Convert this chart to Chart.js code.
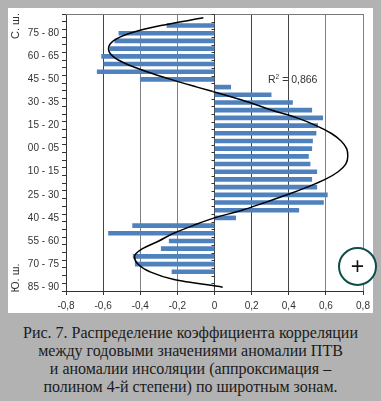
<!DOCTYPE html>
<html>
<head>
<meta charset="utf-8">
<script src="https://cdn.jsdelivr.net/npm/chart.js@4"></script>
<style>
  html, body { margin: 0; padding: 0; width: 381px; height: 401px; overflow: hidden; background: #b2b2b2; }
  #panel { position: absolute; left: 8px; top: 8px; width: 365px; height: 305px; background: #fff; }
  #wrap { position: absolute; left: 0; top: 0; width: 381px; height: 320px; }
  .side { position: absolute; font: 11px "Liberation Sans", sans-serif; color: #333; transform: translate(-50%, -50%) rotate(-90deg); white-space: nowrap; }
  #r2 { position: absolute; left: 268px; top: 73px; font: 10.5px "Liberation Sans", sans-serif; color: #333; white-space: nowrap; }
  #r2 sup { font-size: 6.5px; line-height: 0; }
  #plus { position: absolute; left: 338px; top: 247px; width: 35px; height: 35px; border: 2px solid #0e4d4a; border-radius: 50%; background: #fff;
          font: 23px/34px "Liberation Sans", sans-serif; color: #111; text-align: center; }
  #caption { position: absolute; left: 0; top: 324px; width: 381px; text-align: center; font: 16px/18px "Liberation Serif", serif; color: #1a1a1a; }
</style>
</head>
<body>
<div id="panel"></div>
<div id="wrap"><canvas id="chart" width="381" height="320"></canvas></div>
<div class="side" style="left:15px;top:26px">С. ш.</div>
<div class="side" style="left:15px;top:278px">Ю. ш.</div>
<div id="r2">R<sup>2</sup> = 0,866</div>
<div id="plus">+</div>
<div id="caption">Рис. 7. Распределение коэффициента корреляции<br>между годовыми значениями аномалии ПТВ<br>и аномалии инсоляции (аппроксимация –<br>полином 4-й степени) по широтным зонам.</div>
<script>
// широтные зоны, сверху вниз: север, потом юг
const zones = ["85 - 90", "80 - 85", "75 - 80", "70 - 75", "65 - 70", "60 - 65", "55 - 60", "50 - 55", "45 - 50",
  "40 - 45", "35 - 40", "30 - 35", "25 - 30", "20 - 25", "15 - 20", "10 - 15", "05 - 10", "00 - 05",
  "00 - 05", "05 - 10", "10 - 15", "15 - 20", "20 - 25", "25 - 30", "30 - 35", "35 - 40", "40 - 45",
  "45 - 50", "50 - 55", "55 - 60", "60 - 65", "65 - 70", "70 - 75", "75 - 80", "80 - 85", "85 - 90"];

const correlation = [null, -0.256, -0.515, -0.537, -0.564, -0.608, -0.596, -0.632, -0.40,
  0.087, 0.305, 0.42, 0.524, 0.583, 0.556, 0.547, 0.528, 0.524,
  0.506, 0.515, 0.551, 0.524, 0.551, 0.608, 0.587, 0.454, 0.114,
  -0.441, -0.571, -0.244, -0.287, -0.438, -0.427, -0.229, null, null];

const trend = [-0.06, -0.289, -0.456, -0.545, -0.571, -0.547, -0.474, -0.364, -0.235,
  -0.094, 0.051, 0.189, 0.31, 0.445, 0.547, 0.628, 0.682, 0.712,
  0.718, 0.707, 0.666, 0.596, 0.499, 0.391, 0.272, 0.148, 0.0,
  -0.116, -0.22, -0.30, -0.388, -0.431, -0.413, -0.348, -0.218, 0.044];

const xTicks = [-0.8, -0.6, -0.4, -0.2, 0, 0.2, 0.4, 0.6, 0.8];
const darkGrid = [-0.6, 0, 0.2, 0.4];

const tickFont = { family: '"Liberation Sans", sans-serif', size: 10 };

// мелкие риски на нулевой оси и верхняя рамка
const frameExtras = {
  id: "frameExtras",
  afterDatasetsDraw(chart) {
    const { x, y } = chart.scales;
    const c = chart.ctx;
    const x0 = x.getPixelForValue(0);
    const step = y.getPixelForValue(1) - y.getPixelForValue(0);
    c.save();
    c.lineWidth = 1;
    c.strokeStyle = "#777";
    c.beginPath();
    c.moveTo(chart.chartArea.left, chart.chartArea.top + 0.5);
    c.lineTo(chart.chartArea.right, chart.chartArea.top + 0.5);
    c.stroke();
    c.strokeStyle = "#333";
    c.beginPath();
    zones.forEach((z, i) => {
      const py = Math.round(y.getPixelForValue(i) - step / 2) + 0.5;
      c.moveTo(x0 - 3, py);
      c.lineTo(x0, py);
    });
    c.stroke();
    c.restore();
  }
};

new Chart(document.getElementById("chart"), {
  type: "bar",
  data: {
    labels: zones,
    datasets: [
      {
        type: "line", data: trend, borderColor: "#000", borderWidth: 1.5,
        pointRadius: 0, cubicInterpolationMode: "monotone", order: 0
      },
      { type: "bar", data: correlation, backgroundColor: "#4f81bd", barThickness: 4, order: 1 }
    ]
  },
  options: {
    indexAxis: "y",
    responsive: false,
    animation: false,
    layout: { padding: { top: 14, right: 18, bottom: 0, left: 0 } },
    plugins: { legend: { display: false }, tooltip: { enabled: false } },
    scales: {
      x: {
        type: "linear", min: -0.8, max: 0.8,
        afterBuildTicks: s => { s.ticks = xTicks.map(v => ({ value: v })); },
        afterFit: s => { s.height = 29; },
        ticks: {
          color: "#333", font: tickFont, maxRotation: 0, padding: 5,
          callback: v => v === 0 ? "0" : v.toFixed(1).replace(".", ",")
        },
        grid: {
          color: c => c.tick && darkGrid.some(v => Math.abs(v - c.tick.value) < 1e-9) ? "#444" : "#808080",
          lineWidth: 1, tickLength: 4, tickColor: "#333"
        },
        border: { color: "#333" }
      },
      y: {
        type: "category", offset: true,
        afterFit: s => { s.width = 66; },
        ticks: {
          color: "#333", font: tickFont, autoSkip: false, padding: 3,
          callback: (v, i) => i % 3 === 2 ? zones[i] : ""
        },
        grid: { drawOnChartArea: false, offset: true, tickLength: 4, tickColor: "#333" },
        border: { color: "#333" }
      }
    }
  },
  plugins: [frameExtras]
});
</script>
</body>
</html>
